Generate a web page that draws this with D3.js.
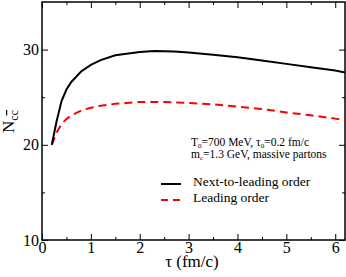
<!DOCTYPE html>
<html>
<head>
<meta charset="utf-8">
<script src="https://cdn.jsdelivr.net/npm/d3@7"></script>
<style>
  body { margin: 0; background: #fff; }
  svg, svg text { font-family: "Liberation Serif", "Times New Roman", serif !important; }
  .axis path, .axis line { stroke: #000; }
  .axis text { font-size: 16px; fill: #000; }
</style>
</head>
<body>
<div id="chart"></div>
<script>
// tau (fm/c) and number of c cbar pairs
var tauNLO = [0.2, 0.3, 0.4, 0.5, 0.6, 0.8, 1.0, 1.2, 1.5, 2.0, 2.3, 2.7, 3.0, 3.5, 4.0, 4.5, 5.0, 5.5, 6.0, 6.2];
var nNLO   = [20.0, 22.5, 24.6, 25.8, 26.6, 27.7, 28.4, 28.9, 29.4, 29.75, 29.85, 29.8, 29.7, 29.45, 29.2, 28.85, 28.5, 28.15, 27.8, 27.6];

var tauLO = [0.2, 0.3, 0.4, 0.5, 0.6, 0.8, 1.0, 1.2, 1.5, 2.0, 2.5, 3.0, 3.5, 4.0, 4.5, 5.0, 5.5, 6.0, 6.2];
var nLO   = [20.0, 21.3, 22.2, 22.7, 23.1, 23.6, 23.9, 24.1, 24.3, 24.5, 24.5, 24.4, 24.25, 24.0, 23.75, 23.4, 23.1, 22.75, 22.6];

var xTicks = [0, 1, 2, 3, 4, 5, 6];
var yTicks = [10, 20, 30];

var margin = { top: 2, right: 1, bottom: 37, left: 42 };
var width = 346 - margin.left - margin.right,
    height = 277 - margin.top - margin.bottom;

var svg = d3.select("#chart").append("svg")
    .attr("width", 346)
    .attr("height", 277)
    .append("g")
    .attr("transform", "translate(" + margin.left + "," + margin.top + ")");

var x = d3.scaleLinear().domain([0, 6.2]).range([0, width]);
var y = d3.scaleLinear().domain([10, 35]).range([height, 0]);

// minor ticks (inward, all four sides)
var xMinor = d3.range(0.5, 6.2, 1);
var yMinor = [15, 25];

function clean(g) {
    g.select(".domain").remove();
    g.attr("font-family", null).attr("font-size", null);
}

svg.append("g").attr("class", "axis")
    .attr("transform", "translate(0," + height + ")")
    .call(d3.axisBottom(x).tickValues(xTicks).tickSize(-6).tickPadding(2).tickFormat(d3.format("d")))
    .call(clean);
svg.append("g").attr("class", "axis")
    .attr("transform", "translate(0," + height + ")")
    .call(d3.axisBottom(x).tickValues(xMinor).tickSize(-3).tickFormat(""))
    .call(clean);
svg.append("g").attr("class", "axis")
    .call(d3.axisTop(x).tickValues(xTicks).tickSize(-6).tickFormat(""))
    .call(clean);
svg.append("g").attr("class", "axis")
    .call(d3.axisTop(x).tickValues(xMinor).tickSize(-3).tickFormat(""))
    .call(clean);

svg.append("g").attr("class", "axis")
    .call(d3.axisLeft(y).tickValues(yTicks).tickSize(-6).tickPadding(3).tickFormat(d3.format("d")))
    .call(clean);
svg.append("g").attr("class", "axis")
    .call(d3.axisLeft(y).tickValues(yMinor).tickSize(-3).tickFormat(""))
    .call(clean);
svg.append("g").attr("class", "axis")
    .attr("transform", "translate(" + width + ",0)")
    .call(d3.axisRight(y).tickValues(yTicks).tickSize(-6).tickFormat(""))
    .call(clean);
svg.append("g").attr("class", "axis")
    .attr("transform", "translate(" + width + ",0)")
    .call(d3.axisRight(y).tickValues(yMinor).tickSize(-3).tickFormat(""))
    .call(clean);

// frame
svg.append("rect")
    .attr("width", width).attr("height", height)
    .attr("fill", "none").attr("stroke", "#000").attr("stroke-width", 1.5);

var line = d3.line()
    .x(d => x(d[0]))
    .y(d => y(d[1]));

svg.append("path")
    .datum(d3.zip(tauLO, nLO))
    .attr("fill", "none")
    .attr("stroke", "#ff0000")
    .attr("stroke-width", 2)
    .attr("stroke-dasharray", "8,5")
    .attr("d", line);

svg.append("path")
    .datum(d3.zip(tauNLO, nNLO))
    .attr("fill", "none")
    .attr("stroke", "#000")
    .attr("stroke-width", 2)
    .attr("d", line);

// annotation
var note = svg.append("text").attr("x", 149).attr("y", 144).style("font-size", "11.5px");
note.append("tspan").text("T");
note.append("tspan").attr("dy", 1.5).style("font-size", "7px").text("0");
note.append("tspan").attr("dy", -1.5).text("=700 MeV, τ");
note.append("tspan").attr("dy", 1.5).style("font-size", "7px").text("0");
note.append("tspan").attr("dy", -1.5).text("=0.2 fm/c");

var note2 = svg.append("text").attr("x", 149).attr("y", 156).style("font-size", "11.5px");
note2.append("tspan").text("m");
note2.append("tspan").attr("dy", 1.5).style("font-size", "7px").text("c");
note2.append("tspan").attr("dy", -1.5).text("=1.3 GeV, massive partons");

// legend
var legend = [
    { label: "Next-to-leading order", color: "#000", dash: null, yy: 184 },
    { label: "Leading order", color: "#ff0000", dash: "7,5", yy: 200 }
];
legend.forEach(function(l) {
    svg.append("line")
        .attr("x1", 119).attr("x2", 139)
        .attr("y1", l.yy - margin.top).attr("y2", l.yy - margin.top)
        .attr("stroke", l.color).attr("stroke-width", 2)
        .attr("stroke-dasharray", l.dash);
    svg.append("text")
        .attr("x", 151).attr("y", l.yy - margin.top + 2)
        .style("font-size", "13.5px")
        .text(l.label);
});

// axis titles
svg.append("text")
    .attr("x", 150).attr("y", 265)
    .attr("text-anchor", "middle")
    .style("font-size", "17px")
    .text("τ (fm/c)");

var yl = svg.append("text")
    .attr("transform", "translate(-28,131) rotate(-90)")
    .style("font-size", "17px");
yl.append("tspan").text("N");
yl.append("tspan").attr("dy", 4).style("font-size", "12px").text("c");
yl.append("tspan").style("font-size", "12px").style("text-decoration", "overline").text("c");
</script>
</body>
</html>
